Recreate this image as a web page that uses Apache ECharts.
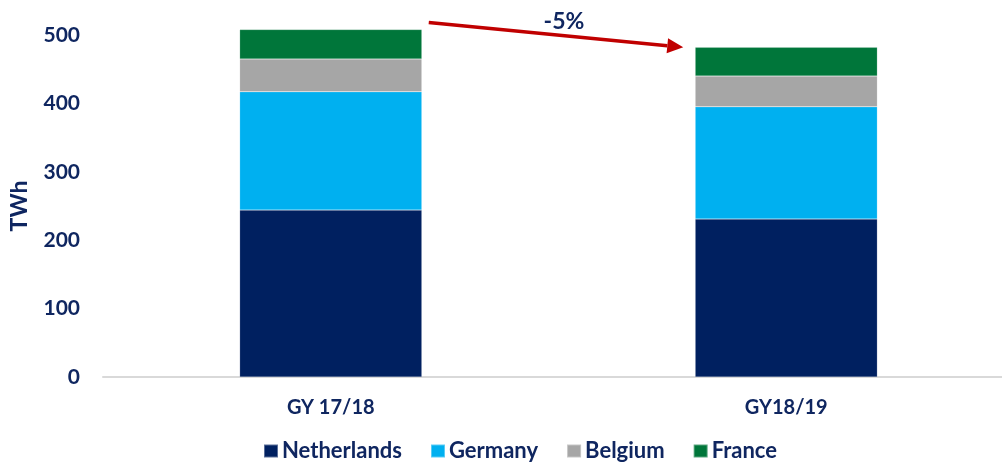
<!DOCTYPE html>
<html><head><meta charset="utf-8">
<script src="https://cdn.jsdelivr.net/npm/echarts@6/dist/echarts.min.js"></script>
<style>html,body{margin:0;padding:0;background:#fff;overflow:hidden}#c{width:1014px;height:464px}</style>
</head><body><div id="c"></div>
<script>
const categories = ['GY 17/18', 'GY18/19'];
const netherlands = [244, 231];
const germany = [173, 164];
const belgium = [48, 45];
const france = [43, 42];
const yTicks = [0, 100, 200, 300, 400, 500];
const changeLabel = '-5%';

const txt = '#0f2660';
const font = 'Lato';
const chart = echarts.init(document.getElementById('c'));
function s(name, data, color) {
  return {name, type: 'bar', stack: 'a', data, barWidth: '40%', clip: false,
    itemStyle: {color, borderColor: 'rgba(255,255,255,0.35)', borderWidth: 0.5}};
}
chart.setOption({
  animation: false,
  grid: {left: 102, right: 0, top: 35, bottom: 87},
  legend: {
    top: 440, left: 263, padding: 0, itemWidth: 14, itemHeight: 13, itemGap: 28,
    icon: 'rect',
    textStyle: {color: txt, fontFamily: font, fontWeight: 'bold', fontSize: 22, padding: [0, 0, 0, -1]}
  },
  xAxis: {
    type: 'category', data: categories,
    axisLine: {lineStyle: {color: '#d9d9d9', width: 2}},
    axisTick: {show: false},
    axisLabel: {color: txt, fontFamily: font, fontWeight: 'bold', fontSize: 20, margin: 21}
  },
  yAxis: {
    type: 'value', min: yTicks[0], max: yTicks[yTicks.length - 1], interval: 100,
    name: 'TWh', nameLocation: 'middle', nameGap: 72, nameRotate: 90,
    nameTextStyle: {color: txt, fontFamily: font, fontWeight: 'bold', fontSize: 23},
    splitLine: {show: false}, axisLine: {show: false}, axisTick: {show: false},
    axisLabel: {color: txt, fontFamily: font, fontWeight: 'bold', fontSize: 21, margin: 23}
  },
  series: [
    s('Netherlands', netherlands, '#002060'),
    s('Germany', germany, '#00b0f0'),
    s('Belgium', belgium, '#a6a6a6'),
    s('France', france, '#00763a')
  ]
});
const tot = categories.map((c, i) => netherlands[i] + germany[i] + belgium[i] + france[i]);
const p1 = chart.convertToPixel({gridIndex: 0}, [0, tot[0]]);
const p2 = chart.convertToPixel({gridIndex: 0}, [1, tot[1]]);
const bw = 182;
const x1 = p1[0] + bw / 2 + 7, y1 = p1[1] - 7;
const x2 = p2[0] - bw / 2 - 12, y2 = p2[1];
const ang = Math.atan2(y2 - y1, x2 - x1);
const hl = 16, hw = 7.5;
const bx = x2 - hl * Math.cos(ang), by = y2 - hl * Math.sin(ang);
chart.setOption({
  graphic: [
    {type: 'text', x: (x1 + x2) / 2 + 8, y: (y1 + y2) / 2 - 13,
      style: {text: changeLabel, fill: txt, font: 'bold 23px Lato', align: 'center', verticalAlign: 'middle'}},
    {type: 'line', shape: {x1, y1, x2: bx, y2: by}, style: {stroke: '#c00000', lineWidth: 3.5}},
    {type: 'polygon', shape: {points: [[x2, y2],
      [bx + hw * Math.sin(ang), by - hw * Math.cos(ang)],
      [bx - hw * Math.sin(ang), by + hw * Math.cos(ang)]]},
      style: {fill: '#c00000'}}
  ]
});
</script></body></html>
